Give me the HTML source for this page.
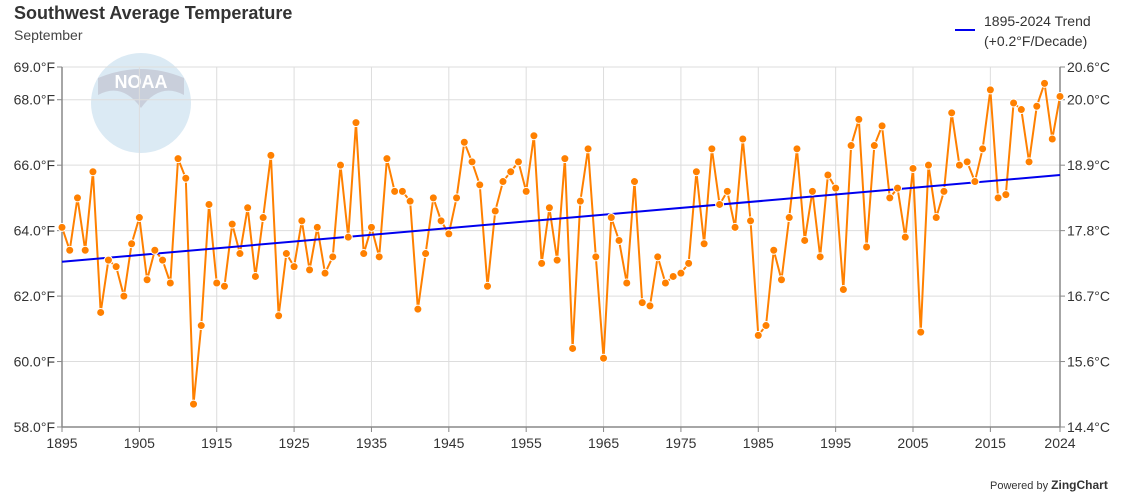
<!DOCTYPE html>
<html><head><meta charset="utf-8"><style>
body{margin:0;background:#fff;font-family:"Liberation Sans",sans-serif;}
#wrap{position:relative;width:1122px;height:500px;overflow:hidden;}
</style></head><body>
<div id="wrap">
<svg id="chart" width="1122" height="500"></svg>
</div>
<script>
const years=[];for(let y=1895;y<=2024;y++)years.push(y);
const temps=[64.1,63.4,65.0,63.4,65.8,61.5,63.1,62.9,62.0,63.6,
64.4,62.5,63.4,63.1,62.4,66.2,65.6,58.7,61.1,64.8,
62.4,62.3,64.2,63.3,64.7,62.6,64.4,66.3,61.4,63.3,
62.9,64.3,62.8,64.1,62.7,63.2,66.0,63.8,67.3,63.3,
64.1,63.2,66.2,65.2,65.2,64.9,61.6,63.3,65.0,64.3,
63.9,65.0,66.7,66.1,65.4,62.3,64.6,65.5,65.8,66.1,
65.2,66.9,63.0,64.7,63.1,66.2,60.4,64.9,66.5,63.2,
60.1,64.4,63.7,62.4,65.5,61.8,61.7,63.2,62.4,62.6,
62.7,63.0,65.8,63.6,66.5,64.8,65.2,64.1,66.8,64.3,
60.8,61.1,63.4,62.5,64.4,66.5,63.7,65.2,63.2,65.7,
65.3,62.2,66.6,67.4,63.5,66.6,67.2,65.0,65.3,63.8,
65.9,60.9,66.0,64.4,65.2,67.6,66.0,66.1,65.5,66.5,
68.3,65.0,65.1,67.9,67.7,66.1,67.8,68.5,66.8,68.1];
const trendStart=63.05, trendEnd=65.7;
const leftTicks=[69,68,66,64,62,60,58];
const rightTickLabels=["20.6°C","20.0°C","18.9°C","17.8°C","16.7°C","15.6°C","14.4°C"];
const xTicks=[1895,1905,1915,1925,1935,1945,1955,1965,1975,1985,1995,2005,2015,2024];

const L=62,R=1060,T=67,B=427,ymin=58,ymax=69;
const xs=y=>L+(y-1895)*(R-L)/(2024-1895);
const ys=v=>B-(v-ymin)*(B-T)/(ymax-ymin);
const NS="http://www.w3.org/2000/svg";
const svg=document.getElementById('chart');
function mk(tag,attrs,parent){const e=document.createElementNS(NS,tag);for(const k in attrs)e.setAttribute(k,attrs[k]);(parent||svg).appendChild(e);return e;}
function txt(s,attrs){const e=mk('text',attrs);e.textContent=s;return e;}

// logo
const logo=mk('g',{});


mk('circle',{cx:141,cy:103,r:50,fill:'#dbeaf4'},logo);
mk('path',{d:'M98,78 Q141,60 184,78 L184,95 Q160,82 141,108 Q122,82 98,95 Z',fill:'#c9cfdb'},logo);
const lt=mk('text',{x:141,y:88,'text-anchor':'middle','font-size':'18','font-weight':'bold',fill:'#fff','font-family':'Liberation Sans, sans-serif'},logo);lt.textContent='NOAA';

// grid
leftTicks.forEach(v=>{const g=mk('line',{x1:L,x2:R,y1:ys(v),y2:ys(v),stroke:'#dddddd','stroke-width':1});

});
xTicks.forEach(y=>{const g=mk('line',{x1:xs(y),x2:xs(y),y1:T,y2:B,stroke:'#dddddd','stroke-width':1});

});
// axes
mk('line',{x1:L,x2:L,y1:T,y2:B,stroke:'#888','stroke-width':1.5});
mk('line',{x1:R,x2:R,y1:T,y2:B,stroke:'#888','stroke-width':1.5});
mk('line',{x1:L,x2:R,y1:B,y2:B,stroke:'#888','stroke-width':1.5});
leftTicks.forEach((v,i)=>{
 mk('line',{x1:L-5,x2:L,y1:ys(v),y2:ys(v),stroke:'#888'});
 const t=txt(v.toFixed(1)+'°F',{x:L-7,y:ys(v)+5,'text-anchor':'end','font-size':'14',fill:'#333'});
 
 
 mk('line',{x1:R,x2:R+5,y1:ys(v),y2:ys(v),stroke:'#888'});
 const t2=txt(rightTickLabels[i],{x:R+7,y:ys(v)+5,'text-anchor':'start','font-size':'14',fill:'#333'});
 
 
});
xTicks.forEach(y=>{
 mk('line',{x1:xs(y),x2:xs(y),y1:B,y2:B+5,stroke:'#888'});
 const t=txt(String(y),{x:xs(y),y:B+21,'text-anchor':'middle','font-size':'14',fill:'#333'});
 
 
});
// series line
const pts=years.map((y,i)=>xs(y)+','+ys(temps[i])).join(' ');
const pl=mk('polyline',{points:pts,fill:'none',stroke:'#ff8000','stroke-width':2});


// trend
const tr=mk('line',{x1:xs(1895),y1:ys(trendStart),x2:xs(2024),y2:ys(trendEnd),stroke:'#0000ee','stroke-width':2});


years.forEach((y,i)=>{
 const c=mk('circle',{cx:xs(y),cy:ys(temps[i]),r:4,fill:'#ff8000',stroke:'#fff','stroke-width':1});
 
 
});
// title
const ti=txt('Southwest Average Temperature',{x:14,y:19,'font-size':'18','font-weight':'bold',fill:'#333'});


const st=txt('September',{x:14,y:40,'font-size':'14',fill:'#444'});


// legend
const lg=mk('g',{});


mk('line',{x1:955,x2:975,y1:30,y2:30,stroke:'#0000ee','stroke-width':2},lg);
const l1=mk('text',{x:984,y:26,'font-size':'14',fill:'#333'},lg);l1.textContent='1895-2024 Trend';
const l2=mk('text',{x:984,y:46,'font-size':'14',fill:'#333'},lg);l2.textContent='(+0.2°F/Decade)';
// credit
const cr=txt('Powered by ',{x:990,y:489,'font-size':'11',fill:'#333'});


const ts=mk('tspan',{'font-weight':'bold','font-size':'12'},cr);ts.textContent='ZingChart';
</script>
</body></html>
